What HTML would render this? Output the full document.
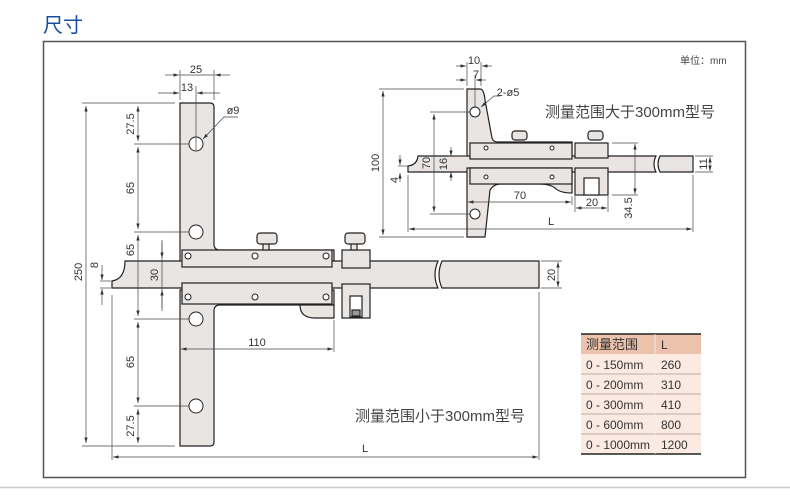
<!DOCTYPE html>
<html><head><meta charset="utf-8"><style>
body{margin:0;background:#fff;width:790px;height:497px;overflow:hidden;font-family:"Liberation Sans","Noto Sans CJK SC",sans-serif}
svg{position:absolute;left:0;top:0}
</style></head><body>
<svg width="790" height="497" viewBox="0 0 790 497" xmlns="http://www.w3.org/2000/svg">
<defs>
<marker id="a" viewBox="0 0 10 6" refX="10" refY="3" markerWidth="8" markerHeight="5" orient="auto-start-reverse"><path d="M0,0L10,3L0,6z" fill="#333"/></marker>
</defs>
<text x="43" y="32" font-size="20" fill="#1a4f9c" font-family="Noto Sans CJK SC,sans-serif">尺寸</text>
<rect x="43.5" y="41.5" width="702" height="436" fill="none" stroke="#555" stroke-width="1.5"/>
<line x1="0" y1="487.5" x2="790" y2="487.5" stroke="#ccc" stroke-width="1.5"/>
<text x="680" y="64" font-size="10" fill="#444" font-family="Liberation Sans,Noto Sans CJK SC,sans-serif">单位：mm</text>

<g fill="#e9e5e3" stroke="#222" stroke-width="1.2">
<path d="M180,103 H210 Q214,103 214,107 V244 Q214,250 220,250 H334 V268 H180 Z"/>
<path d="M125,261 H438 Q432,275 438,288 H112 V281 Q125,279 125,261 Z"/>
<path d="M442,261 H539 V288 H442 Q436,275 442,261 Z"/>
<rect x="182" y="250" width="150" height="17"/>
<path d="M180,290 H334 V305 H220 Q214,305 214,311 V442 Q214,446 210,446 H180 Z"/>
<rect x="182" y="283" width="150" height="21"/>
<path d="M300,305 H334 V318 H315 Q300,318 300,305 Z"/>
<rect x="342" y="250" width="28" height="18"/>
<rect x="342" y="284" width="28" height="34"/>
<rect x="350" y="296" width="12" height="21" fill="#fff"/>
<rect x="352" y="310" width="8" height="6" fill="#999"/>
<rect x="263" y="243" width="6" height="7"/>
<rect x="351" y="243" width="6" height="7"/>
<rect x="257" y="233" width="20" height="11" rx="3"/>
<rect x="345" y="233" width="20" height="11" rx="3"/>
<path d="M467,89 H480 Q484,89 485,100 L492,138 Q493,142 498,142 H572 V160 H467 Z"/>
<path d="M418,156 H656 Q652,164 656,172 H408 V166 Q417,165 418,156 Z"/>
<path d="M660,156 H693 V172 H660 Q656,164 660,156 Z"/>
<rect x="470" y="143" width="102" height="16"/>
<path d="M467,168 H572 V193 Q560,193 555,188 Q550,184 540,184 H500 Q494,184 490,190 L485,237 H467 Z"/>
<rect x="470" y="168" width="102" height="16"/>
<rect x="575" y="143" width="33" height="15"/>
<rect x="575" y="168" width="33" height="27"/>
<rect x="584" y="178" width="15" height="17" fill="#fff"/>
<rect x="512" y="131" width="15" height="9" rx="3"/>
<rect x="588" y="131" width="15" height="9" rx="3"/>
</g>
<g fill="#fff" stroke="#222" stroke-width="1">
<circle cx="196" cy="144" r="7"/><circle cx="196" cy="232" r="7"/>
<circle cx="196" cy="319" r="7"/><circle cx="196" cy="406" r="7"/>
<circle cx="475" cy="112" r="5"/><circle cx="475" cy="214" r="5"/>
<circle cx="188" cy="256" r="3"/><circle cx="255" cy="256" r="3"/><circle cx="326" cy="256" r="3"/>
<circle cx="188" cy="297" r="3"/><circle cx="255" cy="297" r="3"/><circle cx="326" cy="297" r="3"/>
<circle cx="486" cy="148" r="2"/><circle cx="552" cy="148" r="2"/>
<circle cx="486" cy="177" r="2"/><circle cx="552" cy="177" r="2"/>
</g>
<g stroke="#444" stroke-width="0.7" fill="none">
<line x1="82" y1="103" x2="175" y2="103"/><line x1="82" y1="446" x2="175" y2="446"/>
<line x1="86" y1="106" x2="86" y2="443" marker-start="url(#a)" marker-end="url(#a)"/>
<line x1="138" y1="106" x2="138" y2="141" marker-start="url(#a)" marker-end="url(#a)"/>
<line x1="138" y1="147" x2="138" y2="229" marker-start="url(#a)" marker-end="url(#a)"/>
<line x1="138" y1="235" x2="138" y2="316" marker-start="url(#a)" marker-end="url(#a)"/>
<line x1="138" y1="322" x2="138" y2="403" marker-start="url(#a)" marker-end="url(#a)"/>
<line x1="138" y1="409" x2="138" y2="443" marker-start="url(#a)" marker-end="url(#a)"/>
<line x1="134" y1="144" x2="189" y2="144"/><line x1="134" y1="232" x2="189" y2="232"/>
<line x1="134" y1="319" x2="189" y2="319"/><line x1="134" y1="406" x2="189" y2="406"/>
<line x1="162" y1="240" x2="162" y2="311"/>
<line x1="162" y1="242" x2="162" y2="258" marker-end="url(#a)"/>
<line x1="162" y1="308" x2="162" y2="290" marker-end="url(#a)"/>
<line x1="100" y1="281" x2="111" y2="281"/><line x1="100" y1="288" x2="111" y2="288"/>
<line x1="102" y1="265" x2="102" y2="280" marker-end="url(#a)"/>
<line x1="102" y1="305" x2="102" y2="289" marker-end="url(#a)"/>
<line x1="180" y1="70" x2="180" y2="100"/><line x1="214" y1="70" x2="214" y2="100"/>
<line x1="196" y1="86" x2="196" y2="150"/>
<line x1="165" y1="75" x2="179" y2="75" marker-end="url(#a)"/><line x1="230" y1="75" x2="215" y2="75" marker-end="url(#a)"/><line x1="180" y1="75" x2="214" y2="75"/>
<line x1="158" y1="93" x2="179" y2="93" marker-end="url(#a)"/><line x1="220" y1="93" x2="197" y2="93" marker-end="url(#a)"/>
<path d="M238,117 H224 L203,139" marker-end="url(#a)"/>
<line x1="334" y1="320" x2="334" y2="352"/>
<line x1="181" y1="349" x2="333" y2="349" marker-start="url(#a)" marker-end="url(#a)"/>
<line x1="112" y1="295" x2="112" y2="460"/><line x1="539" y1="292" x2="539" y2="460"/>
<line x1="113" y1="457" x2="538" y2="457" marker-start="url(#a)" marker-end="url(#a)"/>
<line x1="541" y1="261" x2="562" y2="261"/><line x1="541" y1="288" x2="562" y2="288"/>
<line x1="558" y1="262" x2="558" y2="287" marker-start="url(#a)" marker-end="url(#a)"/>
<line x1="379" y1="89" x2="464" y2="89"/><line x1="379" y1="237" x2="464" y2="237"/>
<line x1="383" y1="91" x2="383" y2="235" marker-start="url(#a)" marker-end="url(#a)"/>
<line x1="430" y1="112" x2="470" y2="112"/><line x1="430" y1="214" x2="470" y2="214"/>
<line x1="434" y1="114" x2="434" y2="212" marker-start="url(#a)" marker-end="url(#a)"/>
<line x1="451" y1="147" x2="451" y2="156" marker-end="url(#a)"/><line x1="451" y1="181" x2="451" y2="172" marker-end="url(#a)"/><line x1="448" y1="156" x2="467" y2="156"/>
<line x1="398" y1="166" x2="408" y2="166"/>
<line x1="400" y1="155" x2="400" y2="165" marker-end="url(#a)"/><line x1="400" y1="182" x2="400" y2="173" marker-end="url(#a)"/>
<line x1="467" y1="62" x2="467" y2="86"/><line x1="481" y1="62" x2="481" y2="86"/><line x1="475" y1="75" x2="475" y2="108"/>
<line x1="456" y1="66" x2="466" y2="66" marker-end="url(#a)"/><line x1="492" y1="66" x2="482" y2="66" marker-end="url(#a)"/>
<line x1="456" y1="80" x2="466" y2="80" marker-end="url(#a)"/><line x1="486" y1="80" x2="476" y2="80" marker-end="url(#a)"/>
<path d="M500,96 H494 L481,107" marker-end="url(#a)"/>
<line x1="572" y1="196" x2="572" y2="205"/>
<line x1="468" y1="202" x2="571" y2="202" marker-start="url(#a)" marker-end="url(#a)"/>
<line x1="575" y1="196" x2="575" y2="212"/><line x1="608" y1="196" x2="608" y2="212"/>
<line x1="576" y1="208" x2="607" y2="208" marker-start="url(#a)" marker-end="url(#a)"/>
<line x1="612" y1="143" x2="638" y2="143"/><line x1="612" y1="195" x2="638" y2="195"/>
<line x1="635" y1="144" x2="635" y2="194" marker-start="url(#a)" marker-end="url(#a)"/>
<line x1="408" y1="175" x2="408" y2="232"/><line x1="693" y1="175" x2="693" y2="232"/>
<line x1="409" y1="229" x2="692" y2="229" marker-start="url(#a)" marker-end="url(#a)"/>
<line x1="695" y1="156" x2="713" y2="156"/><line x1="695" y1="172" x2="713" y2="172"/>
<line x1="710" y1="157" x2="710" y2="171" marker-start="url(#a)" marker-end="url(#a)"/>
</g>
<g font-size="11" fill="#333" font-family="Liberation Sans,sans-serif" text-anchor="middle">
<text x="196" y="73">25</text><text x="187" y="91">13</text><text x="233" y="114">ø9</text>
<text transform="translate(134,124) rotate(-90)">27.5</text>
<text transform="translate(134,188) rotate(-90)">65</text>
<text transform="translate(134,250) rotate(-90)">65</text>
<text transform="translate(134,362) rotate(-90)">65</text>
<text transform="translate(134,426) rotate(-90)">27.5</text>
<text transform="translate(82,272) rotate(-90)">250</text>
<text transform="translate(98,265) rotate(-90)">8</text>
<text transform="translate(158,275) rotate(-90)">30</text>
<text transform="translate(555,275) rotate(-90)">20</text>
<text x="257" y="346">110</text><text x="365" y="452">L</text>
<text x="474" y="64">10</text><text x="476" y="78">7</text><text x="508" y="96">2-ø5</text>
<text transform="translate(379,163) rotate(-90)">100</text>
<text transform="translate(430,163) rotate(-90)">70</text>
<text transform="translate(447,164) rotate(-90)">16</text>
<text transform="translate(398,180) rotate(-90)">4</text>
<text x="520" y="199">70</text><text x="592" y="206">20</text>
<text transform="translate(632,208) rotate(-90)">34.5</text>
<text transform="translate(707,164) rotate(-90)">11</text>
<text x="551" y="225">L</text>
</g>
<text x="545" y="117" font-size="15" fill="#444" font-family="Liberation Sans,Noto Sans CJK SC,sans-serif">测量范围大于300mm型号</text>
<text x="355" y="421" font-size="15" fill="#444" font-family="Liberation Sans,Noto Sans CJK SC,sans-serif">测量范围小于300mm型号</text>
<g font-size="12" fill="#333" font-family="Liberation Sans,Noto Sans CJK SC,sans-serif">
<rect x="581" y="334" width="120" height="20" fill="#ecc2ac"/>
<rect x="581" y="354" width="120" height="100" fill="#fbeae2"/>
<line x1="581" y1="334" x2="701" y2="334" stroke="#222" stroke-width="1.5"/>
<line x1="581" y1="454" x2="701" y2="454" stroke="#222" stroke-width="1.5"/>
<g stroke="#aa9990" stroke-width="0.8"><line x1="581" y1="374" x2="701" y2="374"/><line x1="581" y1="394" x2="701" y2="394"/><line x1="581" y1="414" x2="701" y2="414"/><line x1="581" y1="434" x2="701" y2="434"/><line x1="655" y1="334" x2="655" y2="454" stroke="#eee"/></g>
<text x="586" y="349" font-size="13">测量范围</text><text x="661" y="349">L</text>
<text x="586" y="369">0 - 150mm</text><text x="661" y="369">260</text>
<text x="586" y="389">0 - 200mm</text><text x="661" y="389">310</text>
<text x="586" y="409">0 - 300mm</text><text x="661" y="409">410</text>
<text x="586" y="429">0 - 600mm</text><text x="661" y="429">800</text>
<text x="586" y="449">0 - 1000mm</text><text x="661" y="449">1200</text>
</g>
</svg>
</body></html>
